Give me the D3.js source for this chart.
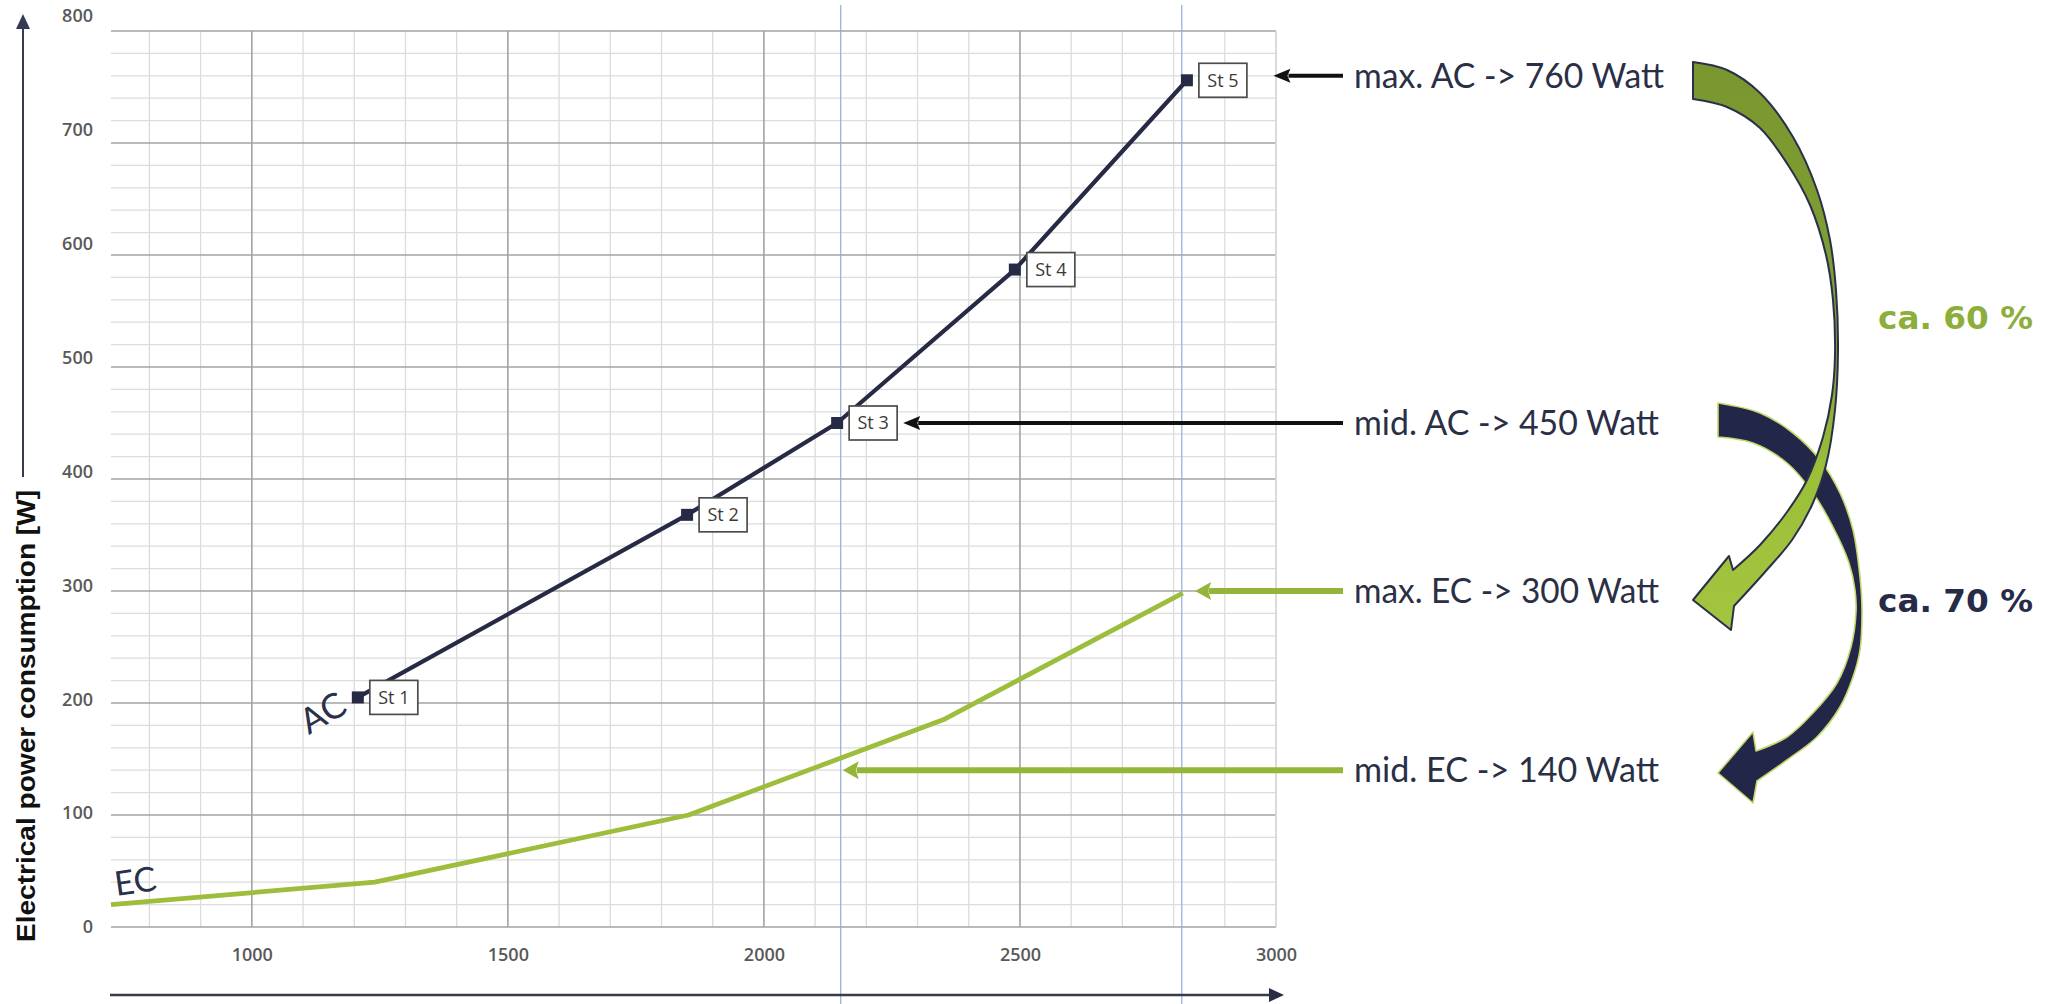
<!DOCTYPE html>
<html><head><meta charset="utf-8">
<script src="https://cdn.jsdelivr.net/npm/d3@7"></script>
<style>html,body{margin:0;padding:0;background:#fff;} svg{display:block}</style>
</head><body>
<svg id="c" width="2065" height="1004"></svg>
<script>
// ---------- data ----------
const acSpeeds = [1207, 1850, 2143, 2490, 2826];
const acPower  = [205, 368, 450, 587, 756];
const acStages = ["St 1", "St 2", "St 3", "St 4", "St 5"];
const ecSpeeds = [725, 1240, 1853, 2350, 2818];
const ecPower  = [20, 40, 100, 185, 298];
const xTickLabels = [1000, 1500, 2000, 2500, 3000];
const yTickLabels = [0, 100, 200, 300, 400, 500, 600, 700, 800];
const refSpeeds = [2150, 2816];
const annLabels  = ["max. AC -> 760 Watt", "mid. AC -> 450 Watt", "max. EC -> 300 Watt", "mid. EC -> 140 Watt"];
const annValues  = [760, 450, 300, 140];
const annTargets = [2995, 2272, 2842, 2154];
const annSeries  = ["AC", "AC", "EC", "EC"];
const shareLabels = ["ca. 60 %", "ca. 70 %"];
const yTitle = "Electrical power consumption [W]";

// ---------- setup ----------
const svg = d3.select("#c");
const NAVY = "#262a45", GREEN = "#9dbd3c";
const x = d3.scaleLinear().domain([725, 3000]).range([111, 1276]);
const y = d3.scaleLinear().domain([0, 800]).range([927, 31]);
const yLab = d3.scaleLinear().domain([0, 800]).range([927, 16]);

// ---------- grid ----------
const grid = svg.append("g");
const hMinor = d3.range(0, 801, 20).filter(v => v % 100 !== 0);
const vMinor = d3.range(800, 3000, 100).filter(v => v % 500 !== 0);
grid.selectAll(".hm").data(hMinor).join("line")
  .attr("x1", x(725)).attr("x2", x(3000)).attr("y1", d => y(d)).attr("y2", d => y(d))
  .attr("stroke", "#dcdcdc").attr("stroke-width", 1.3);
grid.selectAll(".vm").data(vMinor).join("line")
  .attr("y1", y(0)).attr("y2", y(800)).attr("x1", d => x(d)).attr("x2", d => x(d))
  .attr("stroke", "#dcdcdc").attr("stroke-width", 1.3);
grid.selectAll(".hM").data(yTickLabels).join("line")
  .attr("x1", x(725)).attr("x2", x(3000)).attr("y1", d => y(d)).attr("y2", d => y(d))
  .attr("stroke", "#a3a3a3").attr("stroke-width", 1.6);
grid.selectAll(".vM").data(xTickLabels.filter(v => v < 3000)).join("line")
  .attr("y1", y(0)).attr("y2", y(800)).attr("x1", d => x(d)).attr("x2", d => x(d))
  .attr("stroke", "#a3a3a3").attr("stroke-width", 1.6);
grid.append("line").attr("x1", x(3000)).attr("x2", x(3000)).attr("y1", y(0)).attr("y2", y(800))
  .attr("stroke", "#cfcfcf").attr("stroke-width", 1.5);

// ---------- tick labels via axes ----------
const yAx = svg.append("g").attr("transform", "translate(93,0)")
  .call(d3.axisLeft(yLab).tickValues(yTickLabels).tickSize(0).tickPadding(0).tickFormat(d3.format("d")));
const xAx = svg.append("g").attr("transform", "translate(0,955)")
  .call(d3.axisBottom(x).tickValues(xTickLabels).tickSize(0).tickPadding(0).tickFormat(d3.format("d")));
[yAx, xAx].forEach(g => {
  g.select(".domain").remove();
  g.selectAll("text").attr("font-family", "'Open Sans', sans-serif").attr("font-weight", 600)
    .attr("font-size", 18).attr("fill", "#595959");
});
xAx.selectAll("text").attr("y", 0).attr("dy", "0.35em");

// ---------- reference lines ----------
svg.selectAll(".ref").data(refSpeeds).join("line")
  .attr("x1", d => x(d)).attr("x2", d => x(d)).attr("y1", 5).attr("y2", 1004)
  .attr("stroke", "#93acdc").attr("stroke-width", 1.2);

// ---------- axis arrows ----------
svg.append("line").attr("x1", 23).attr("x2", 23).attr("y1", 477).attr("y2", 26)
  .attr("stroke", "#353a55").attr("stroke-width", 2);
svg.append("path").attr("d", "M23,14L16,29L30,29Z").attr("fill", "#353a55");
svg.append("line").attr("x1", 110).attr("x2", 1270).attr("y1", 995).attr("y2", 995)
  .attr("stroke", "#3a3a4a").attr("stroke-width", 2.4);
svg.append("path").attr("d", "M1284,995L1269,988L1269,1002Z").attr("fill", "#2a2e45");

svg.append("text").attr("transform", "translate(35,942) rotate(-90)")
  .attr("font-family", "'Liberation Sans', Arial, sans-serif").attr("font-weight", "bold")
  .attr("font-size", 26).attr("textLength", 452).attr("lengthAdjust", "spacingAndGlyphs")
  .attr("fill", "#111").text(yTitle);

// ---------- series ----------
const line = d3.line().x(d => x(d[0])).y(d => y(d[1]));
const ecData = ecSpeeds.map((s, i) => [s, ecPower[i]]);
const acData = acSpeeds.map((s, i) => [s, acPower[i]]);
svg.append("path").attr("d", line(ecData)).attr("fill", "none")
  .attr("stroke", GREEN).attr("stroke-width", 4.8).attr("stroke-linejoin", "round");
svg.append("path").attr("d", line(acData)).attr("fill", "none")
  .attr("stroke", NAVY).attr("stroke-width", 4.2).attr("stroke-linejoin", "round");
svg.selectAll(".mk").data(acData).join("rect")
  .attr("x", d => x(d[0]) - 6).attr("y", d => y(d[1]) - 6)
  .attr("width", 12).attr("height", 12).attr("fill", NAVY);
const lab = svg.selectAll(".lab").data(acData).join("g")
  .attr("transform", d => `translate(${x(d[0]) + 12},${y(d[1])})`);
lab.append("rect").attr("x", 0).attr("y", -17).attr("width", 48).attr("height", 34)
  .attr("fill", "#fff").attr("stroke", "#4d4d4d").attr("stroke-width", 1.7);
lab.append("text").attr("x", 24).attr("y", 0).attr("dy", "0.35em").attr("text-anchor", "middle")
  .attr("font-family", "'Open Sans', sans-serif").attr("font-size", 18).attr("fill", "#3a3a3a")
  .text((d, i) => acStages[i]);

// series names
svg.append("text").attr("transform", `translate(${x(acSpeeds[0]) - 29},${y(acPower[0]) + 26}) rotate(-30)`)
  .attr("text-anchor", "middle").attr("font-family", "Lato, sans-serif").attr("font-size", 35)
  .attr("fill", "#2a2f4a").text("AC");
svg.append("text").attr("transform", `translate(137,893) rotate(-8)`)
  .attr("text-anchor", "middle").attr("font-family", "Lato, sans-serif").attr("font-size", 34)
  .attr("fill", "#2a2f4a").text("EC");

// ---------- annotation arrows ----------
annValues.forEach((v, i) => {
  const col = annSeries[i] === "AC" ? "#111" : "#94b53a";
  const w = annSeries[i] === "AC" ? 4 : 6;
  const tip = x(annTargets[i]), yy = y(v);
  const hl = annSeries[i] === "AC" ? 17 : 16, hw = annSeries[i] === "AC" ? 7 : 9;
  svg.append("line").attr("x1", tip + hl - 2).attr("x2", 1343).attr("y1", yy).attr("y2", yy)
    .attr("stroke", col).attr("stroke-width", w);
  svg.append("path").attr("d", `M${tip},${yy}L${tip + hl},${yy - hw}L${tip + hl - 3},${yy}L${tip + hl},${yy + hw}Z`)
    .attr("fill", col);
  svg.append("text").attr("x", 1354).attr("y", yy).attr("dy", "0.36em")
    .attr("font-family", "Lato, sans-serif").attr("font-size", 34)
    .attr("textLength", i === 0 ? 310 : 305).attr("lengthAdjust", "spacingAndGlyphs")
    .attr("fill", "#2a2f45").text(annLabels[i]);
});

// ---------- curved arrows ----------
const defs = svg.append("defs");
const gr = defs.append("linearGradient").attr("id", "gg").attr("gradientUnits", "userSpaceOnUse")
  .attr("x1", 0).attr("y1", 62).attr("x2", 0).attr("y2", 630);
[[0, "#7a972f"], [0.5, "#80a033"], [0.72, "#9cbf3a"], [1, "#a3c43f"]].forEach(s =>
  gr.append("stop").attr("offset", s[0]).attr("stop-color", s[1]));

const cr = d3.line().curve(d3.curveCatmullRom.alpha(0.5));
function arrowPath(right, head, left) {
  return cr(right) + head.map(p => "L" + p[0] + "," + p[1]).join("") + cr(left).replace(/^M/, "L") + "Z";
}
const gRight = [[1693,62],[1727,70],[1760,93],[1793,137],[1817,190],[1830,240],[1836,290],[1838,350],[1835,410],[1826,465],[1812,505],[1792,540],[1765,572],[1734,606]];
const gHead = [[1731,630],[1693,600],[1729,556]];
const gLeft = [[1733,570],[1760,545],[1787,512],[1807,480],[1823,437],[1832,395],[1835,355],[1833,300],[1826,255],[1810,205],[1788,165],[1760,128],[1727,107],[1693,99]];
const nRight = [[1718,403],[1760,413],[1793,433],[1820,460],[1840,493],[1853,530],[1860,577],[1862,610],[1860,650],[1853,677],[1840,707],[1817,737],[1787,760],[1757,781]];
const nHead = [[1753,803],[1718,773],[1753,732]];
const nLeft = [[1756,751],[1787,737],[1813,713],[1837,683],[1851,647],[1856,612],[1855,590],[1849,563],[1833,527],[1813,493],[1787,463],[1753,443],[1718,437]];

svg.append("path").attr("d", arrowPath(nRight, nHead, nLeft))
  .attr("fill", "#22274a").attr("stroke", "#c3d86a").attr("stroke-width", 1.6).attr("stroke-linejoin", "round");
svg.append("path").attr("d", arrowPath(gRight, gHead, gLeft))
  .attr("fill", "url(#gg)").attr("stroke", "#2a2f4a").attr("stroke-width", 2).attr("stroke-linejoin", "round");

svg.append("text").attr("x", 1878).attr("y", 317).attr("dy", "0.36em")
  .attr("font-family", "'DejaVu Sans', sans-serif").attr("font-weight", "bold").attr("font-size", 32)
  .attr("textLength", 155).attr("lengthAdjust", "spacingAndGlyphs")
  .attr("fill", "#8dae3a").text(shareLabels[0]);
svg.append("text").attr("x", 1878).attr("y", 600).attr("dy", "0.36em")
  .attr("font-family", "'DejaVu Sans', sans-serif").attr("font-weight", "bold").attr("font-size", 32)
  .attr("textLength", 155).attr("lengthAdjust", "spacingAndGlyphs")
  .attr("fill", "#262b47").text(shareLabels[1]);
</script>
</body></html>
